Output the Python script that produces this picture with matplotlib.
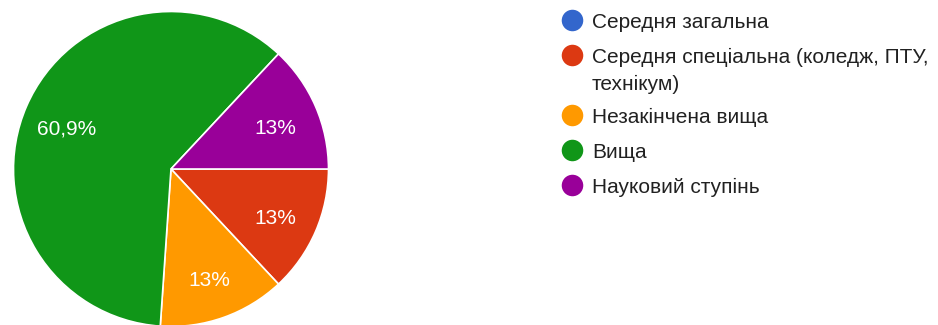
import matplotlib

matplotlib.use("Agg")
import matplotlib.pyplot as plt

plt.rcParams["font.family"] = ["Liberation Sans", "DejaVu Sans"]

# Освіта респондентів (кількість відповідей)
categories = [
    "Середня загальна",
    "Середня спеціальна (коледж, ПТУ,\nтехнікум)",
    "Незакінчена вища",
    "Вища",
    "Науковий ступінь",
]
counts = [0, 3, 3, 14, 3]
colors = ["#3366cc", "#dc3912", "#ff9900", "#109618", "#990099"]


def fmt_pct(p):
    if p < 0.5:
        return ""
    s = f"{p:.1f}"
    if s.endswith(".0"):
        s = s[:-2]
    return s.replace(".", ",") + "%"


W, H = 938, 325
fig = plt.figure(figsize=(W / 100, H / 100), dpi=100)

# pie: centre (171, 169) px, radius ~157 px
cx, cy, r = 171, 169, 157.5
ax = fig.add_axes([(cx - r) / W, (H - cy - r) / H, 2 * r / W, 2 * r / H])
wedges, texts, autotexts = ax.pie(
    counts,
    colors=colors,
    startangle=0,
    counterclock=False,
    autopct=fmt_pct,
    pctdistance=0.72,
    wedgeprops={"edgecolor": "white", "linewidth": 1.2},
    textprops={"color": "white", "fontsize": 15},
)
# nudge labels slightly down
for t in autotexts:
    x, y = t.get_position()
    t.set_position((x, y - 0.03))
ax.set_xlim(-1, 1)
ax.set_ylim(-1, 1)
ax.set_aspect("equal")
ax.axis("off")

# legend drawn in pixel coordinates
lax = fig.add_axes([0, 0, 1, 1])
lax.set_xlim(0, W)
lax.set_ylim(H, 0)
lax.axis("off")
row_y = [20, 55, 115, 150, 185]
for label, color, y in zip(categories, colors, row_y):
    lax.plot(572, y, "o", color=color, markersize=15.5, markeredgewidth=0)
    for i, line in enumerate(label.split("\n")):
        lax.text(592, y + 2 + 27 * i, line, fontsize=15, color="#212121",
                 va="center", ha="left")

fig.savefig("out.png", dpi=100)
